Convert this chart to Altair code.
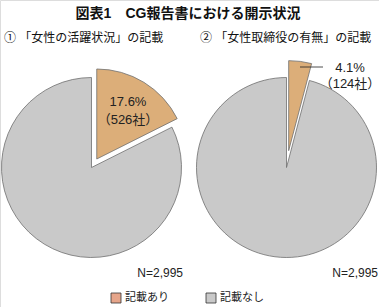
import math
import altair as alt
import pandas as pd

title_text = "図表1　CG報告書における開示状況"
panel_titles = ["① 「女性の活躍状況」の記載", "② 「女性取締役の有無」の記載"]
shares = [0.176, 0.041]
counts = [526, 124]
n_total = "N=2,995"
legend_labels = ["記載あり", "記載なし"]
legend_colors = ["#e6a58a", "#c9c9c9"]

FONT = "'Liberation Sans', 'Noto Sans CJK JP', sans-serif"
W, H = 379, 307
R = 90
centers = [(91.5, 167.5), (286.5, 167.5)]
explode = [10, 17]
ORANGE = "#dcae79"
GRAY = "#c9c9c9"
STROKE = "#6e6e6e"

theta_scale = alt.Scale(domain=[0, 1], range=[0, 2 * math.pi])
layers = []
for i, share in enumerate(shares):
    cx, cy = centers[i]
    gray = pd.DataFrame({"start": [share], "end": [1.0]})
    layers.append(
        alt.Chart(gray).mark_arc(outerRadius=R, fill=GRAY, stroke=STROKE, strokeWidth=0.8).encode(
            theta=alt.Theta("start:Q", scale=theta_scale),
            theta2="end:Q",
            x=alt.value(cx), y=alt.value(cy),
        )
    )
    mid = share / 2 * 2 * math.pi
    dx, dy = explode[i] * math.sin(mid), -explode[i] * math.cos(mid)
    org = pd.DataFrame({"start": [0.0], "end": [share]})
    layers.append(
        alt.Chart(org).mark_arc(outerRadius=R, fill=ORANGE, stroke=STROKE, strokeWidth=0.8).encode(
            theta=alt.Theta("start:Q", scale=theta_scale),
            theta2="end:Q",
            x=alt.value(cx + dx), y=alt.value(cy + dy),
        )
    )

label_pos = [(128, 102, 120), (350, 68, 84)]
for i, share in enumerate(shares):
    lx, ly1, ly2 = label_pos[i]
    df = pd.DataFrame({"t": [f"{share*100:.1f}%", f"（{counts[i]}社）"]})
    for j, yy in enumerate([ly1, ly2]):
        layers.append(
            alt.Chart(df.iloc[[j]]).mark_text(font=FONT, fontSize=13, color="#222", align="center", baseline="middle").encode(
                text="t:N", x=alt.value(lx), y=alt.value(yy)
            )
        )

layers.append(
    alt.Chart(pd.DataFrame({"a": [0]})).mark_rule(color="#222", strokeWidth=0.8).encode(
        x=alt.value(300), x2=alt.value(323), y=alt.value(67)
    )
)

layers.append(
    alt.Chart(pd.DataFrame({"t": [title_text]})).mark_text(font=FONT, fontSize=14, fontWeight="bold", color="#111", align="center", baseline="middle").encode(
        text="t:N", x=alt.value(188), y=alt.value(14)
    )
)
for i, pt in enumerate(panel_titles):
    layers.append(
        alt.Chart(pd.DataFrame({"t": [pt]})).mark_text(font=FONT, fontSize=12, color="#111", align="left", baseline="middle").encode(
            text="t:N", x=alt.value([4, 200][i]), y=alt.value(38)
        )
    )
    layers.append(
        alt.Chart(pd.DataFrame({"t": [n_total]})).mark_text(font=FONT, fontSize=12, color="#222", align="right", baseline="middle").encode(
            text="t:N", x=alt.value([183, 378][i]), y=alt.value(273)
        )
    )

for i, lab in enumerate(legend_labels):
    sx = [116, 211][i]
    layers.append(
        alt.Chart(pd.DataFrame({"c": [legend_colors[i]]})).mark_square(size=100, stroke="#333", strokeWidth=0.8, opacity=1).encode(
            x=alt.value(sx), y=alt.value(298), fill=alt.Fill("c:N", scale=None)
        )
    )
    layers.append(
        alt.Chart(pd.DataFrame({"t": [lab]})).mark_text(font=FONT, fontSize=11, color="#222", align="left", baseline="middle").encode(
            text="t:N", x=alt.value(sx + 9), y=alt.value(298)
        )
    )

chart = alt.layer(*layers).properties(
    width=W, height=H, padding=0, autosize=alt.AutoSizeParams(type="none")
).configure_view(stroke=None).configure(background="white")

chart.save("out.html", embed_options={"renderer": "svg", "actions": False})
